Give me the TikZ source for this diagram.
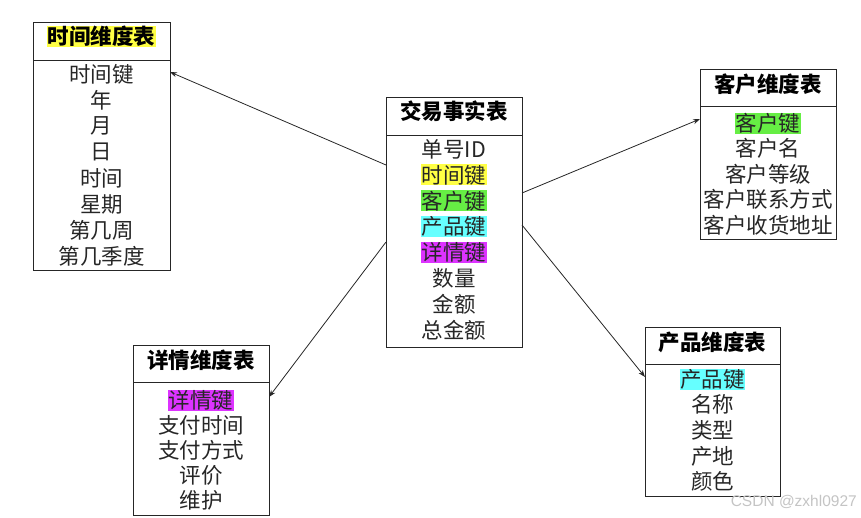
\documentclass[tikz,border=0pt]{standalone}
\usepackage{fontspec}
\setmainfont{Noto Sans CJK SC}
\newfontfamily\wmfont{Liberation Sans}
\usetikzlibrary{arrows.meta,calc}
\definecolor{hlyellow}{HTML}{FFFF44}
\definecolor{hlgreen}{HTML}{66EE44}
\definecolor{hlcyan}{HTML}{66FFFF}
\definecolor{hlmagenta}{HTML}{DD33FF}
\definecolor{wmgray}{HTML}{C4C4C4}
\tikzset{
  tablebox/.style={draw=black!85,line width=0.9pt,anchor=north west,inner sep=0pt,outer sep=0pt},
  divline/.style={draw=black!85,line width=0.9pt},
  titletext/.style={font=\fontsize{21.5}{24}\selectfont\bfseries,text=black,inner sep=0.5pt},
  rowtext/.style={font=\fontsize{21.5}{24}\selectfont,text=black!85,inner sep=0.5pt},
  link/.style={draw=black!85,line width=0.8pt,-{Stealth[length=7pt,width=5pt]}},
}
\begin{document}
\begin{tikzpicture}[x=1pt,y=-1pt]
\useasboundingbox (0,0) rectangle (861,517);
% time dimension table
\node[tablebox,minimum width=137pt,minimum height=248pt] (time) at (33,22) {};
\draw[divline] ($(time.north west)+(0,38.7)$) -- ($(time.north east)+(0,38.7)$);
\node[titletext,fill=hlyellow] (timeT) at ($(time.north)+(0,14.5)$) {时间维度表};
\foreach \t/\c [count=\i from 0] in {时间键/none,年/none,月/none,日/none,时间/none,星期/none,第几周/none,第几季度/none}
  \node[rowtext,fill=\c] (time\i) at ($(time.north)+(0,52+26*\i)$) {\t};
% fact table
\node[tablebox,minimum width=136pt,minimum height=250pt] (fact) at (386,97) {};
\draw[divline] ($(fact.north west)+(0,38)$) -- ($(fact.north east)+(0,38)$);
\node[titletext] (factT) at ($(fact.north)+(0,14.7)$) {交易事实表};
\foreach \t/\c [count=\i from 0] in {单号ID/none,时间键/hlyellow,客户键/hlgreen,产品键/hlcyan,详情键/hlmagenta,数量/none,金额/none,总金额/none}
  \node[rowtext,fill=\c] (fact\i) at ($(fact.north)+(0,52+25.9*\i)$) {\t};
% customer dimension table
\node[tablebox,minimum width=136pt,minimum height=170pt] (cust) at (700,69) {};
\draw[divline] ($(cust.north west)+(0,37.7)$) -- ($(cust.north east)+(0,37.7)$);
\node[titletext] (custT) at ($(cust.north)+(0,15.3)$) {客户维度表};
\foreach \t/\c [count=\i from 0] in {客户键/hlgreen,客户名/none,客户等级/none,客户联系方式/none,客户收货地址/none}
  \node[rowtext,fill=\c] (cust\i) at ($(cust.north)+(0,54.3+25.4*\i)$) {\t};
% detail dimension table
\node[tablebox,minimum width=136pt,minimum height=170pt] (det) at (133,345) {};
\draw[divline] ($(det.north west)+(0,37.7)$) -- ($(det.north east)+(0,37.7)$);
\node[titletext] (detT) at ($(det.north)+(0,15.7)$) {详情维度表};
\foreach \t/\c [count=\i from 0] in {详情键/hlmagenta,支付时间/none,支付方式/none,评价/none,维护/none}
  \node[rowtext,fill=\c] (det\i) at ($(det.north)+(0,55.7+24.8*\i)$) {\t};
% product dimension table
\node[tablebox,minimum width=135pt,minimum height=169pt] (prod) at (645,327) {};
\draw[divline] ($(prod.north west)+(0,37.3)$) -- ($(prod.north east)+(0,37.3)$);
\node[titletext] (prodT) at ($(prod.north)+(0,15)$) {产品维度表};
\foreach \t/\c [count=\i from 0] in {产品键/hlcyan,名称/none,类型/none,产地/none,颜色/none}
  \node[rowtext,fill=\c] (prod\i) at ($(prod.north)+(0,52+25.7*\i)$) {\t};
% connectors
\draw[link] ($(fact.north west)+(0,68)$) -- ($(time.north east)+(0,50)$);
\draw[link] ($(fact.north west)+(0,145)$) -- ($(det.north east)+(0,52)$);
\draw[link] ($(fact.north east)+(0,96)$) -- ($(cust.north west)+(0,50)$);
\draw[link] ($(fact.north east)+(0,128)$) -- ($(prod.north west)+(0,50)$);
% watermark
\node[font=\wmfont\fontsize{15.5}{18}\selectfont,text=wmgray,anchor=east,inner sep=0pt] (wm) at (857,502) {CSDN @zxhl0927};
\end{tikzpicture}
\end{document}
